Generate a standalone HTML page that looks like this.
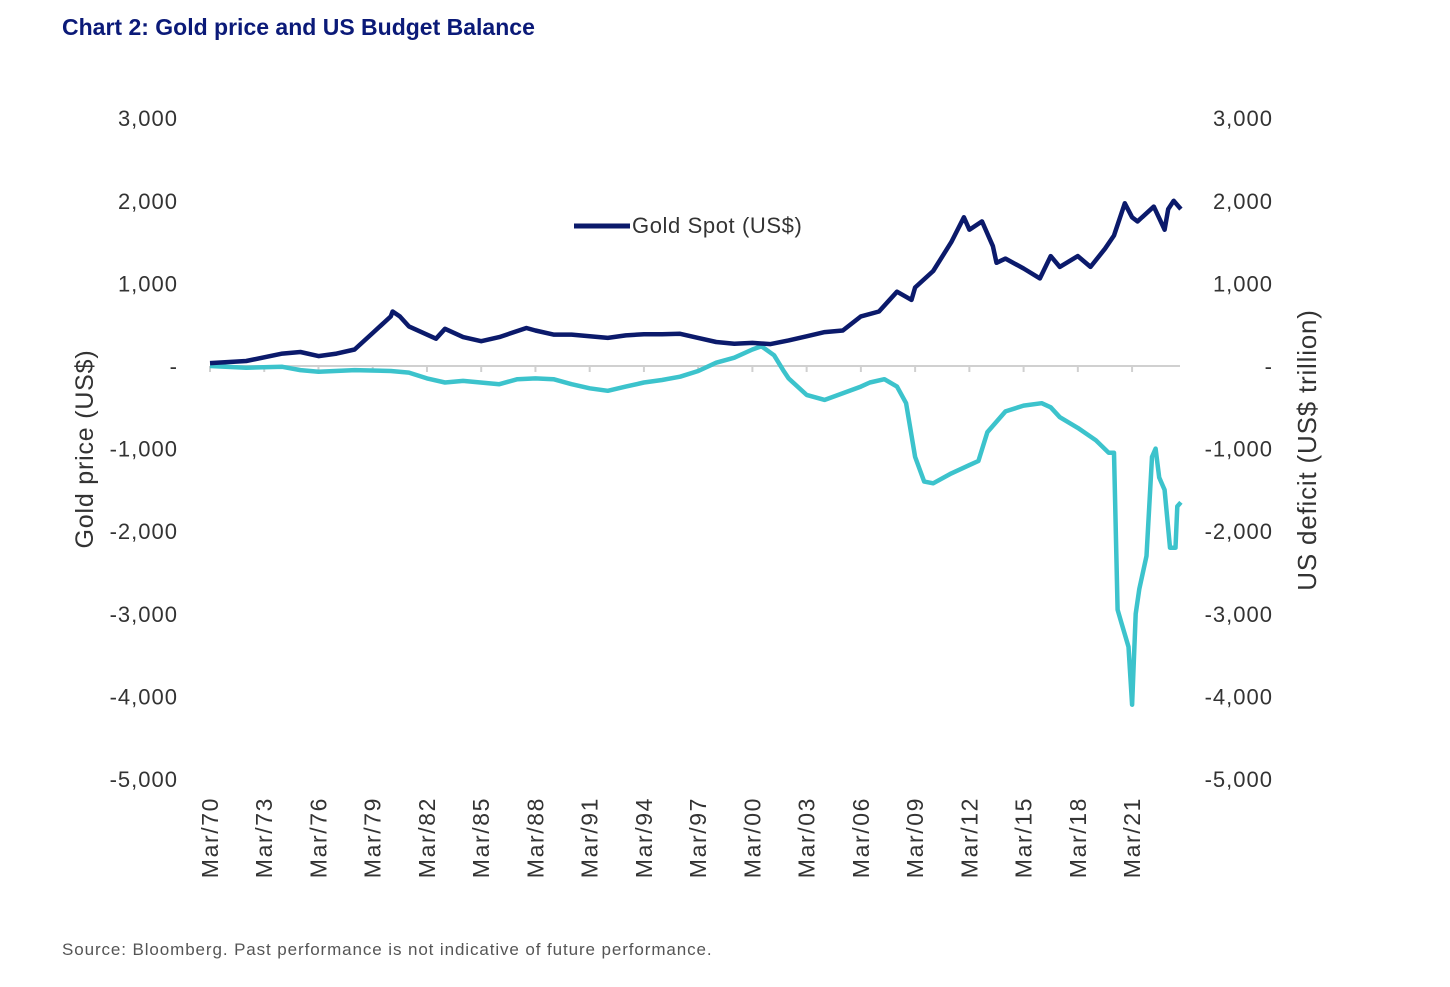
<!DOCTYPE html>
<html><head><meta charset="utf-8"><style>
body{margin:0;background:#fff;font-family:"Liberation Sans",sans-serif;}
svg text{font-family:"Liberation Sans",sans-serif;}
</style></head><body>
<svg id="chart" width="1450" height="982" xmlns="http://www.w3.org/2000/svg">
<text x="62" y="35" font-size="23" font-weight="bold" fill="#0b1a78">Chart 2: Gold price and US Budget Balance</text>
<text x="62" y="955" font-size="17" fill="#555" letter-spacing="0.9">Source: Bloomberg. Past performance is not indicative of future performance.</text>
<text transform="translate(93,449) rotate(-90)" text-anchor="middle" font-size="25" fill="#333" letter-spacing="0.8">Gold price (US$)</text>
<text transform="translate(1316,450) rotate(-90)" text-anchor="middle" font-size="26" fill="#333" letter-spacing="0.8">US deficit (US$ trillion)</text>
<g id="axes"></g>
<g id="series"></g>
<g>
<line x1="574" y1="226" x2="630" y2="226" stroke="#0b1a6b" stroke-width="5"/>
<text x="632" y="233" font-size="22" fill="#333" letter-spacing="0.6">Gold Spot (US$)</text>
</g>
</svg>
<script>
const yTicks=[3000,2000,1000,0,-1000,-2000,-3000,-4000,-5000];
const yTickLabels=["3,000","2,000","1,000","-","-1,000","-2,000","-3,000","-4,000","-5,000"];
const xTickYears=[1970,1973,1976,1979,1982,1985,1988,1991,1994,1997,2000,2003,2006,2009,2012,2015,2018,2021];
const xTickLabels=["Mar/70","Mar/73","Mar/76","Mar/79","Mar/82","Mar/85","Mar/88","Mar/91","Mar/94","Mar/97","Mar/00","Mar/03","Mar/06","Mar/09","Mar/12","Mar/15","Mar/18","Mar/21"];
const goldYears=[1970,1972,1974,1975,1976,1977,1978,1979,1980,1980.1,1980.5,1981,1982.5,1983,1984,1985,1986,1987.5,1988,1989,1990,1991,1992,1993,1994,1995,1996,1997,1998,1999,2000,2001,2002,2003,2004,2005,2006,2007,2008,2008.8,2009,2010,2011,2011.7,2012,2012.7,2013.3,2013.5,2014,2015,2015.9,2016.5,2017,2018,2018.7,2019.5,2020,2020.6,2021,2021.3,2022.2,2022.8,2023,2023.3,2023.7];
const goldValues=[35,60,150,170,120,150,200,400,600,660,600,480,330,450,350,300,350,460,430,380,380,360,340,370,385,385,390,340,290,270,280,265,310,360,410,430,600,660,900,800,950,1150,1500,1800,1650,1750,1450,1250,1300,1180,1060,1330,1200,1330,1200,1420,1580,1970,1800,1750,1930,1650,1900,2000,1900];
const defYears=[1970,1972,1974,1975,1976,1978,1980,1981,1982,1983,1984,1986,1987,1988,1989,1990,1991,1992,1993,1994,1995,1996,1997,1998,1999,2000,2000.5,2001.2,2001.7,2002,2003,2004,2005,2006,2006.5,2007.3,2008,2008.5,2009,2009.5,2010,2011,2012,2012.5,2013,2014,2015,2016,2016.5,2017,2018,2019,2019.7,2020,2020.2,2020.4,2020.8,2021,2021.2,2021.4,2021.8,2022.1,2022.3,2022.5,2022.8,2023.1,2023.4,2023.5,2023.7];
const defValues=[0,-20,-10,-50,-70,-50,-60,-80,-150,-200,-180,-220,-160,-150,-160,-220,-270,-300,-250,-200,-170,-130,-60,40,100,200,240,130,-50,-150,-350,-410,-330,-250,-200,-160,-250,-450,-1100,-1400,-1420,-1300,-1200,-1150,-800,-550,-480,-450,-500,-620,-750,-900,-1050,-1050,-2950,-3100,-3400,-4100,-3000,-2700,-2300,-1100,-1000,-1350,-1500,-2200,-2200,-1700,-1650];
const NS="http://www.w3.org/2000/svg";
const X=y=>210+(y-1970)*18.08;
const Y=v=>366-v*0.0826;
const axes=document.getElementById('axes'),series=document.getElementById('series');
function mk(tag,attrs,parent){const e=document.createElementNS(NS,tag);for(const k in attrs)e.setAttribute(k,attrs[k]);parent.appendChild(e);return e;}
yTicks.forEach((v,i)=>{
 const l=mk('text',{x:178,y:Y(v)+8,'text-anchor':'end','font-size':22,fill:'#333','letter-spacing':1},axes);l.textContent=yTickLabels[i];
 
 
 const r=mk('text',{x:1273,y:Y(v)+8,'text-anchor':'end','font-size':22,fill:'#333','letter-spacing':1},axes);r.textContent=yTickLabels[i];
 
 
});
const zl=mk('line',{x1:210,x2:1180,y1:Y(0),y2:Y(0),stroke:'#d0d0d0','stroke-width':2},axes);


xTickYears.forEach((yr,i)=>{
 const x=X(yr);
 const t=mk('line',{x1:x,x2:x,y1:Y(0),y2:Y(0)+6,stroke:'#d0d0d0','stroke-width':2},axes);
 
 
 const l=mk('text',{transform:`translate(${x+8},797) rotate(-90)`,'text-anchor':'end','font-size':23,fill:'#333','letter-spacing':1.6},axes);l.textContent=xTickLabels[i];
 
 
});
function line(xs,vs,color,name){
 const d=xs.map((x,i)=>(i?'L':'M')+X(x).toFixed(1)+','+Y(vs[i]).toFixed(1)).join('');
 const p=mk('path',{d:d,fill:'none',stroke:color,'stroke-width':4.5,'stroke-linejoin':'round'},series);
 
 
}
line(defYears,defValues,'#3cc3cc','us-deficit-line');
line(goldYears,goldValues,'#0b1a6b','gold-price-line');
</script>
</body></html>
